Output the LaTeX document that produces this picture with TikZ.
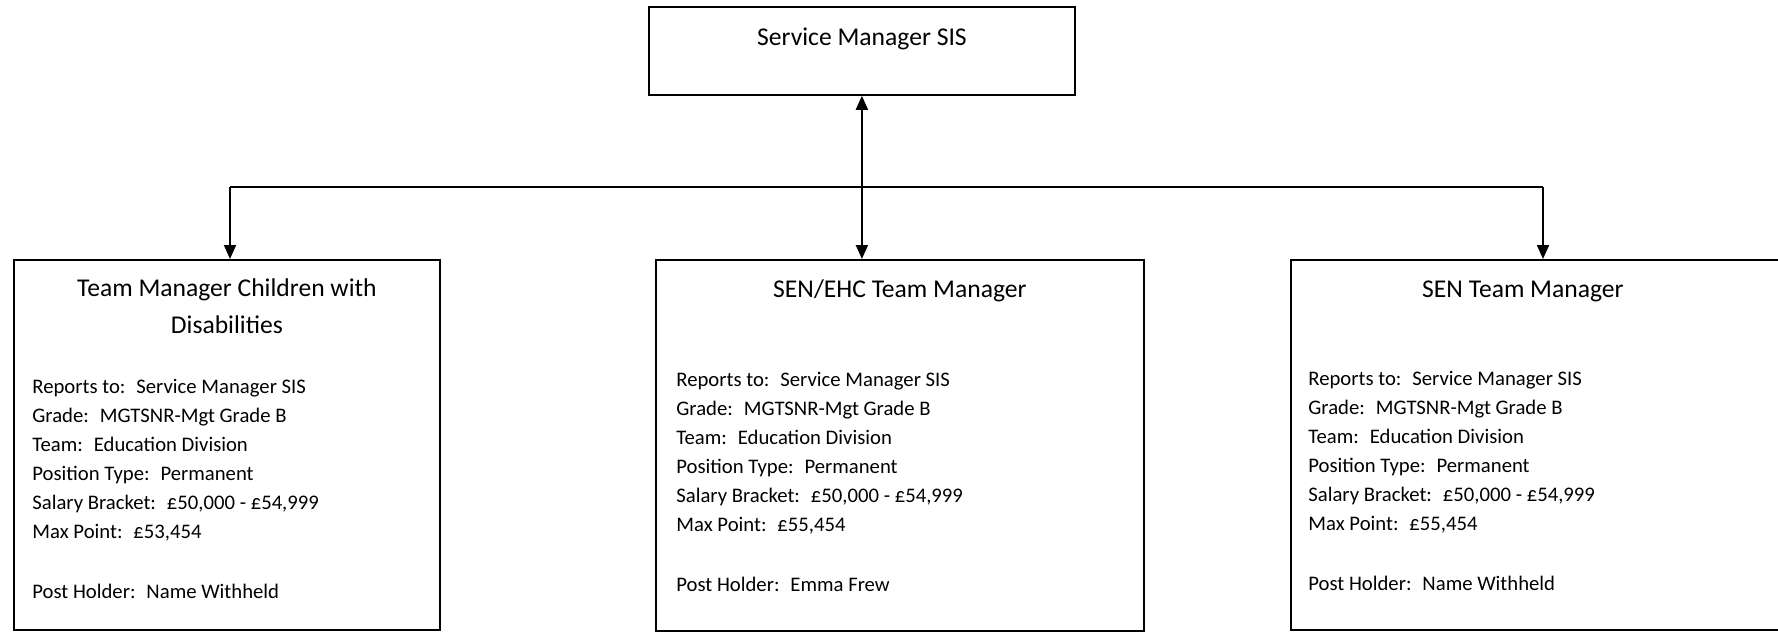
\documentclass[tikz,border=0pt]{standalone}
\usepackage{fontspec}
\setmainfont{Carlito}
\usetikzlibrary{arrows.meta,calc}
\tikzset{
  box/.style={draw, line width=0.9pt, inner sep=0pt, anchor=north west},
  title/.style={font=\fontsize{12.8}{18.5}\selectfont, align=center, anchor=base, inner sep=0pt},
  info/.style={font=\fontsize{10.35}{14.5}\selectfont, align=left, anchor=base west, inner sep=0pt},
  link/.style={line width=1pt, -{Triangle[width=6pt,length=7pt]}},
}

\begin{document}
\begin{tikzpicture}[x=0.5pt, y=-0.5pt]
	\clip (0,0) rectangle (1778,632);
	% boxes
	\node[box, minimum width=213pt, minimum height=44pt] (sm) at (648,6) {};
	\node[box, minimum width=213pt, minimum height=185pt] (cwd) at (13,259) {};
	\node[box, minimum width=244pt, minimum height=185.5pt] (ehc) at (655,259) {};
	\node[box, minimum width=245pt, minimum height=185pt] (sen) at (1290,259) {};
	% titles (base = last line)
	\node[title] (smT) at ($(sm.north)+(0,39)$) {Service Manager SIS};
	\node[title] (cwdT) at ($(cwd.north)+(0,74)$) {Team Manager Children with\\Disabilities};
	\node[title] (ehcT) at ($(ehc.north)+(0,38)$) {SEN/EHC Team Manager};
	\node[title] (senT) at ($(sen.north)+(-13,38)$) {SEN Team Manager};
	% details (base = last line)
	\node[info] (cwdI) at ($(cwd.north west)+(19,339)$) {Reports to:~ Service Manager SIS\\Grade:~ MGTSNR-Mgt Grade B\\Team:~ Education Division\\Position Type:~ Permanent\\Salary Bracket:~ £50,000 - £54,999\\Max Point:~ £53,454\\[15.5pt]Post Holder:~ Name Withheld};
	\node[info] (ehcI) at ($(ehc.north west)+(21,332)$) {Reports to:~ Service Manager SIS\\Grade:~ MGTSNR-Mgt Grade B\\Team:~ Education Division\\Position Type:~ Permanent\\Salary Bracket:~ £50,000 - £54,999\\Max Point:~ £55,454\\[15.5pt]Post Holder:~ Emma Frew};
	\node[info] (senI) at ($(sen.north west)+(18,331)$) {Reports to:~ Service Manager SIS\\Grade:~ MGTSNR-Mgt Grade B\\Team:~ Education Division\\Position Type:~ Permanent\\Salary Bracket:~ £50,000 - £54,999\\Max Point:~ £55,454\\[15.5pt]Post Holder:~ Name Withheld};
	% connectors
	\coordinate (jl) at (230,187);
	\coordinate (jr) at (1543,187);
	\draw[link, {Triangle[width=6pt,length=7pt]}-{Triangle[width=6pt,length=7pt]}] (sm.south) -- (sm.south |- ehc.north);
	\draw[line width=1pt] (jl) -- (jr);
	\draw[link] (jl) -- (jl |- cwd.north);
	\draw[link] (jr) -- (jr |- sen.north);
\end{tikzpicture}
\end{document}
